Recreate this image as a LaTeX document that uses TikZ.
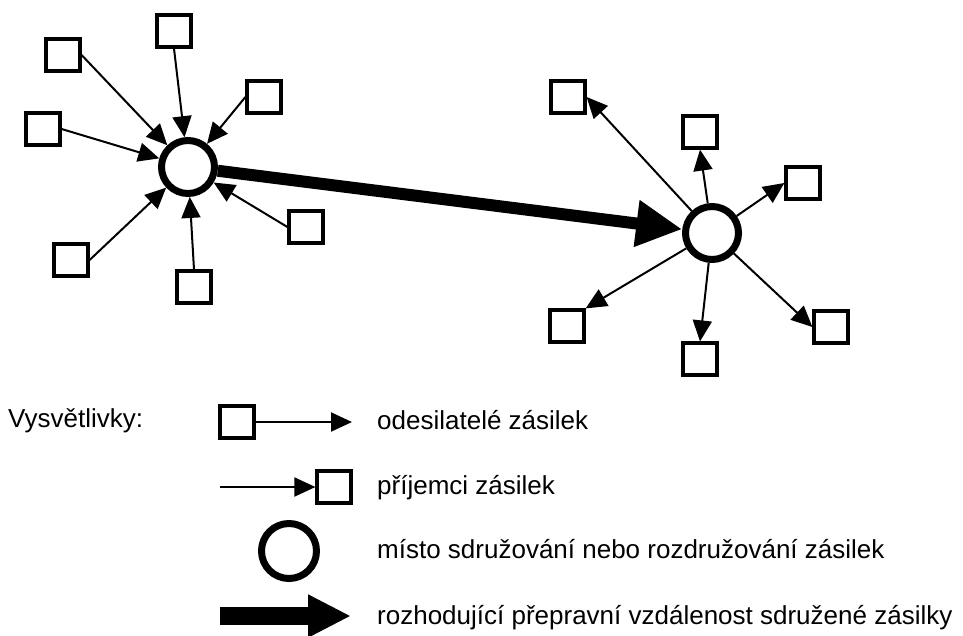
\documentclass[tikz,border=0pt]{standalone}
\usepackage{fontspec}
\setmainfont{Liberation Sans}
\usetikzlibrary{arrows.meta}
\begin{document}
\begin{tikzpicture}[x=1pt,y=-1pt,
  box/.style={draw,line width=3.2pt,minimum width=34pt,minimum height=32pt,inner sep=0pt,fill=white},
  hub/.style={draw,circle,line width=7pt,minimum size=53pt,inner sep=0pt,fill=white},
  tarr/.style={line width=2pt,-{Triangle[length=21pt,width=19pt]}},
  barr/.style={line width=12pt,-{Triangle[length=46pt,width=44pt]}},
  lbl/.style={anchor=base west,inner sep=0pt,font=\fontsize{26}{30}\selectfont}]
\useasboundingbox (0,0) rectangle (963,635);
% hubs
\node[hub] (L) at (188,167) {};
\node[hub] (R) at (712,233) {};
% left boxes (senders)
\node[box] (A) at (63,55) {};
\node[box] (B) at (174,31) {};
\node[box] (C) at (264,97) {};
\node[box] (D) at (43,129) {};
\node[box] (E) at (306,227) {};
\node[box] (F) at (71,260) {};
\node[box] (G) at (194,287) {};
% right boxes (receivers)
\node[box] (H) at (568,97) {};
\node[box] (I) at (700,132) {};
\node[box] (J) at (803,183) {};
\node[box] (K) at (567,326) {};
\node[box] (N) at (700,359) {};
\node[box] (M) at (831,327) {};
% connectors
\draw[barr] (L) -- (R);
\draw[tarr] (A.east) -- (L);
\draw[tarr] (B.south) -- (L);
\draw[tarr] (C.west) -- (L);
\draw[tarr] (D.east) -- (L);
\draw[tarr] (E.west) -- (L);
\draw[tarr] (F.east) -- (L);
\draw[tarr] (G.north) -- (L);
\draw[tarr] (R) -- (H.east);
\draw[tarr] (R) -- (I.south);
\draw[tarr] (R) -- (J.west);
\draw[tarr] (R) -- (K.north east);
\draw[tarr] (R) -- (N.north);
\draw[tarr] (R) -- (M.west);
% legend
\node[lbl] (vys) at (8,427) {Vysvětlivky:};
\node[box] (lb1) at (237,422) {};
\coordinate (la1) at (352,422);
\draw[tarr] (lb1.east) -- (la1);
\node[lbl] (t1) at (377,429) {odesilatelé zásilek};
\coordinate (ls2) at (220,487);
\node[box] (lb2) at (334,487) {};
\draw[tarr] (ls2) -- (lb2.west);
\node[lbl] (t2) at (377,494) {příjemci zásilek};
\node[hub,minimum size=55pt] (lc) at (289,551) {};
\node[lbl] (t3) at (377,558) {místo sdružování nebo rozdružování zásilek};
\coordinate (ls4) at (220,616);
\coordinate (le4) at (351,616);
\draw[line width=18pt,-{Triangle[length=43pt,width=40pt]}] (ls4) -- (le4);
\node[lbl] (t4) at (377,624) {rozhodující přepravní vzdálenost sdružené zásilky};
\end{tikzpicture}
\end{document}
